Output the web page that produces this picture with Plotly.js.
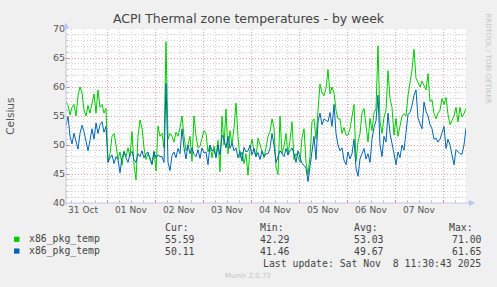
<!DOCTYPE html>
<html>
<head>
<meta charset="utf-8">
<script src="https://cdn.plot.ly/plotly-3.0.1.min.js"></script>
<style>
html,body{margin:0;padding:0;background:#F0F0F0;}
#chart{width:497px;height:287px;}
</style>
</head>
<body>
<div id="chart"></div>
<script>
// ---- data (hourly readings) ----
var startTime = '2025-10-31 03:30';
var stepHours = 1;
var seriesNames = ['x86_pkg_temp', 'x86_pkg_temp'];
var seriesColors = ['#00CC00', '#0066B3'];
var greenTemp = [
57.5,56.8,55.2,56.5,57.0,55.0,58.5,60.0,59.0,56.0,
55.0,56.8,55.5,57.2,58.8,55.5,59.5,56.5,57.0,55.5,
56.3,47.0,48.5,51.5,52.0,50.0,47.5,48.8,46.5,49.0,
48.0,49.5,48.0,52.3,46.5,44.0,51.5,54.3,53.0,49.5,
47.5,48.5,47.8,46.8,49.0,45.5,53.3,51.5,52.0,49.5,
67.8,51.0,52.0,51.5,50.5,52.2,51.5,53.0,55.0,51.5,
49.0,50.0,51.5,47.2,55.0,51.6,49.5,49.8,51.0,52.5,
52.0,48.8,50.0,47.8,49.8,48.0,50.8,45.4,55.0,50.0,
56.2,48.5,52.5,50.0,53.0,57.2,51.5,47.8,48.8,46.8,
48.5,44.8,49.2,51.0,49.0,48.0,51.2,50.0,48.8,47.8,
49.5,51.5,52.3,54.5,53.0,46.2,44.9,55.0,48.5,49.8,
52.0,48.3,50.8,54.0,47.5,48.5,48.0,47.0,51.3,52.8,
47.0,44.9,48.0,54.0,54.5,51.0,56.0,60.5,59.0,58.5,
59.8,63.0,58.8,60.0,59.0,56.0,54.5,54.5,52.0,53.0,
51.7,51.7,52.8,55.0,57.0,47.2,50.5,52.0,55.5,56.3,
53.4,50.5,54.6,52.5,55.5,56.3,67.1,54.0,52.0,54.8,
56.0,62.8,58.0,56.5,51.7,54.6,51.5,53.0,55.0,55.4,
55.0,58.5,61.0,63.0,66.5,61.5,60.8,60.0,61.0,60.2,
59.5,62.3,57.5,57.8,55.4,54.5,55.5,56.0,58.0,57.0,
58.2,55.3,53.5,54.2,55.0,56.5,54.0,56.5,54.8,55.4,
56.3];
var blueTemp = [
53.4,55.0,51.5,50.2,52.0,50.5,49.3,52.0,53.4,52.3,
50.8,49.0,50.8,52.8,51.0,53.8,52.0,53.5,54.0,52.2,
53.2,47.0,47.8,48.3,46.8,48.0,47.5,45.2,47.8,48.8,
47.8,47.0,48.5,48.9,47.5,47.0,48.5,48.0,49.0,47.8,
48.5,48.8,47.5,46.6,48.8,47.8,48.3,48.0,48.0,47.0,
60.6,47.0,45.6,48.2,48.8,47.8,49.4,48.5,52.8,49.5,
47.6,50.0,48.5,49.5,48.4,48.0,49.2,47.7,49.5,48.6,
48.8,46.6,50.0,49.0,49.2,47.8,50.0,48.3,51.7,51.0,
49.5,51.5,49.4,50.3,49.0,49.5,47.8,48.9,47.2,49.6,
48.8,49.0,50.0,48.3,49.4,48.0,48.7,47.5,49.0,48.0,
48.5,48.5,49.4,52.0,50.0,47.0,48.0,49.0,48.5,48.0,
49.4,48.3,49.0,49.5,48.5,47.0,49.0,47.8,46.8,46.5,
46.0,43.7,46.3,49.0,51.5,47.5,54.0,55.5,53.5,54.5,
54.3,54.0,55.6,53.2,57.0,52.0,50.0,49.0,49.5,47.4,
46.6,48.8,47.6,48.5,51.0,46.0,44.6,47.6,48.5,49.4,
47.6,48.5,47.0,51.0,53.0,54.2,58.6,50.0,48.0,51.5,
50.5,55.5,52.0,50.5,48.5,46.6,48.8,47.8,50.0,49.1,
52.0,55.3,55.6,56.8,58.6,59.5,54.6,53.5,52.8,57.4,
55.8,55.0,53.5,52.8,51.0,51.2,50.5,51.0,52.0,53.2,
49.4,51.0,50.0,48.2,46.6,49.2,48.8,48.5,48.4,50.0,
52.9];
var yTickVals = [40, 45, 50, 55, 60, 65, 70];
var statHeaders = ['Cur:', 'Min:', 'Avg:', 'Max:'];
var greenStats = ['55.59', '42.29', '53.03', '71.00'];
var blueStats = ['50.11', '41.46', '49.67', '61.65'];
var titleText = 'ACPI Thermal zone temperatures - by week';
var yTitle = 'Celsius';
var lastUpdate = 'Last update: Sat Nov  8 11:30:43 2025';
var sideText = 'RRDTOOL / TOBI OETIKER';
var footerText = 'Munin 2.0.73';

// ---- build time axis ----
function pad(n){return (n<10?'0':'')+n;}
function timeAt(k){
  var p = startTime.split(/[- :]/).map(Number);
  var d = new Date(Date.UTC(p[0], p[1]-1, p[2], p[3], p[4]) + k*stepHours*3600000);
  return d.getUTCFullYear()+'-'+pad(d.getUTCMonth()+1)+'-'+pad(d.getUTCDate())+' '+pad(d.getUTCHours())+':'+pad(d.getUTCMinutes());
}
var times = greenTemp.map(function(_, k){return timeAt(k);});

// ---- pixel helpers for decorations ----
var W = 497, H = 287, L = 66, R = 466, T = 28.5, B = 203;
function X(px){return (px - L)/(R - L);}
function Y(py){return (B - py)/(B - T);}

var traces = [
  {x: times, y: greenTemp, type: 'scatter', mode: 'lines', name: seriesNames[0],
   line: {color: seriesColors[0], width: 1}, hoverinfo: 'skip'},
  {x: times, y: blueTemp, type: 'scatter', mode: 'lines', name: seriesNames[1],
   line: {color: seriesColors[1], width: 1}, hoverinfo: 'skip'}
];

var gridMajor = '#EBA0A0', gridMinor = '#D2D2D2', axisCol = '#C4C8E4';
var monoFont = {family: 'DejaVu Sans Mono', size: 9.8, color: '#444'};

var ann = [];
ann.push({xref:'paper', yref:'paper', x: X(10.5), y: Y(116), text: yTitle, textangle: -90,
  showarrow:false, font:{family:'DejaVu Sans', size:10.5, color:'#555'}, xanchor:'center', yanchor:'middle'});
ann.push({xref:'paper', yref:'paper', x: X(488), y: Y(58), text: sideText, textangle: 90,
  showarrow:false, font:{family:'DejaVu Sans', size:7, color:'#C4C4C4'}, xanchor:'center', yanchor:'middle'});
var colX = [163.3, 257.7, 352.3, 446.7];
var valX = [163.3, 257.7, 352.3, 450];
for (var i = 0; i < 4; i++) {
  ann.push({xref:'paper', yref:'paper', x: X(colX[i]), y: Y(228), text: statHeaders[i], showarrow:false,
    font: monoFont, xanchor:'left', yanchor:'middle'});
  ann.push({xref:'paper', yref:'paper', x: X(valX[i]), y: Y(239.5), text: greenStats[i], showarrow:false,
    font: monoFont, xanchor:'left', yanchor:'middle'});
  ann.push({xref:'paper', yref:'paper', x: X(valX[i]), y: Y(251.3), text: blueStats[i], showarrow:false,
    font: monoFont, xanchor:'left', yanchor:'middle'});
}
ann.push({xref:'paper', yref:'paper', x: X(26.5), y: Y(239.5), text: seriesNames[0], showarrow:false,
  font: monoFont, xanchor:'left', yanchor:'middle'});
ann.push({xref:'paper', yref:'paper', x: X(26.5), y: Y(251.3), text: seriesNames[1], showarrow:false,
  font: monoFont, xanchor:'left', yanchor:'middle'});
ann.push({xref:'paper', yref:'paper', x: X(261), y: Y(263.5), text: lastUpdate, showarrow:false,
  font: monoFont, xanchor:'left', yanchor:'middle'});
ann.push({xref:'paper', yref:'paper', x: X(248), y: Y(276), text: footerText, showarrow:false,
  font: {family:'DejaVu Sans', size:7, color:'#C4C4C4'}, xanchor:'center', yanchor:'middle'});

var shapes = [
  // legend swatches
  {type:'rect', xref:'paper', yref:'paper', x0:X(14), x1:X(19.5), y0:Y(242), y1:Y(236.8),
   fillcolor: seriesColors[0], line:{width:0}},
  {type:'rect', xref:'paper', yref:'paper', x0:X(14), x1:X(19.5), y0:Y(253.8), y1:Y(248.6),
   fillcolor: seriesColors[1], line:{width:0}},
  // axis lines
  {type:'line', xref:'paper', yref:'paper', x0:X(66), x1:X(66), y0:Y(206), y1:Y(24),
   line:{color:axisCol, width:1}},
  {type:'line', xref:'paper', yref:'paper', x0:X(63), x1:X(470), y0:Y(203), y1:Y(203),
   line:{color:axisCol, width:1}},
  // arrows
  {type:'path', xref:'paper', yref:'paper',
   path:'M '+X(63)+' '+Y(28)+' L '+X(69)+' '+Y(28)+' L '+X(66)+' '+Y(22)+' Z',
   fillcolor:'#B8C4F4', line:{width:0}},
  {type:'path', xref:'paper', yref:'paper',
   path:'M '+X(469)+' '+Y(200)+' L '+X(469)+' '+Y(206)+' L '+X(475)+' '+Y(203)+' Z',
   fillcolor:'#B8C4F4', line:{width:0}}
];

var layout = {
  width: W, height: H,
  paper_bgcolor: '#F0F0F0', plot_bgcolor: '#FFFFFF',
  margin: {l: L, r: W - R, t: T, b: H - B, pad: 0},
  showlegend: false,
  title: {text: titleText, x: 0.5, xref: 'container', xanchor: 'center', y: 1 - 19/H, yref: 'container', yanchor: 'middle',
          font: {family: 'DejaVu Sans', size: 12.5, color: '#444'}},
  xaxis: {
    type: 'date', range: [times[0], times[times.length-1]],
    tick0: '2025-10-31 00:00', dtick: 86400000, tickformat: '%d %b', ticklabelmode: 'period',
    showgrid: true, gridcolor: gridMajor, griddash: '1px,2px', gridwidth: 1,
    minor: {dtick: 6*3600000, tick0: '2025-10-31 00:00', showgrid: true, gridcolor: gridMinor, griddash: '1px,2px', gridwidth: 1,
            ticks: 'inside', ticklen: 2, tickcolor: '#BBBBBB'},
    ticks: 'inside', ticklen: 3, tickcolor: '#E08080',
    showline: false, zeroline: false,
    tickfont: {family: 'DejaVu Sans', size: 9, color: '#555'},
    fixedrange: true
  },
  yaxis: {
    range: [40, 70], tickvals: yTickVals, ticktext: yTickVals.map(String),
    showgrid: true, gridcolor: gridMajor, griddash: '1px,2px', gridwidth: 1,
    minor: {dtick: 1, showgrid: true, gridcolor: gridMinor, griddash: '1px,2px', gridwidth: 1,
            ticks: 'inside', ticklen: 2, tickcolor: '#BBBBBB'},
    ticks: 'inside', ticklen: 3, tickcolor: '#E08080',
    showline: false, zeroline: false,
    tickfont: {family: 'DejaVu Sans', size: 9.5, color: '#555'},
    fixedrange: true
  },
  annotations: ann,
  shapes: shapes
};

Plotly.newPlot('chart', traces, layout, {staticPlot: true, displayModeBar: false});
</script>
</body>
</html>
